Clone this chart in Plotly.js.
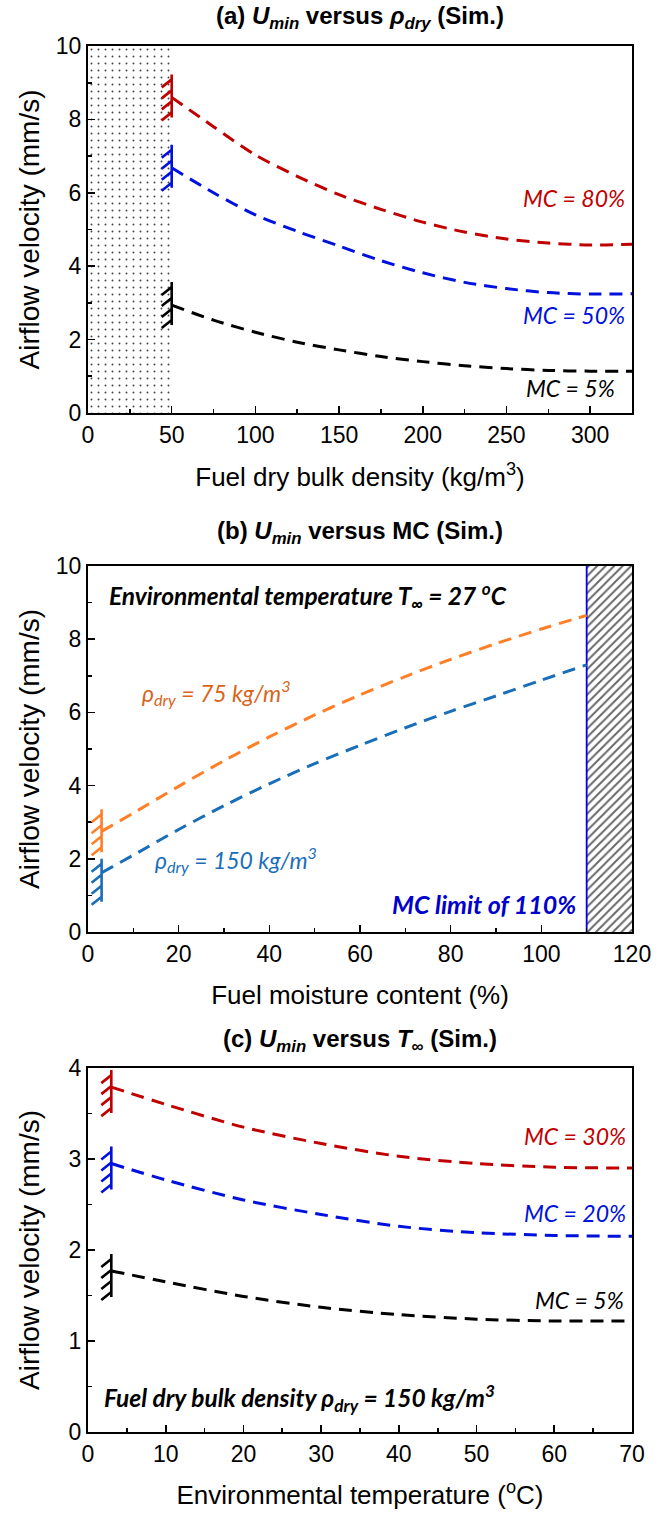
<!DOCTYPE html>
<html><head><meta charset="utf-8">
<script src="https://cdn.plot.ly/plotly-3.0.1.min.js"></script>
<style>html,body{margin:0;padding:0;background:#fff}#chart{width:672px;height:1514px}</style>
</head><body><div id="chart"></div>
<script>
// ---------- data ----------
// (a) U_min versus dry bulk density
const rhoA = [50, 75, 100, 125, 150, 175, 200, 225, 250, 275, 300, 325];
const uA_MC80 = [8.6, 7.8, 7.03, 6.45, 5.95, 5.55, 5.2, 4.93, 4.74, 4.63, 4.58, 4.6];
const uA_MC50 = [6.68, 6.0, 5.4, 4.95, 4.55, 4.15, 3.82, 3.56, 3.39, 3.28, 3.24, 3.25];
const uA_MC5  = [2.94, 2.53, 2.2, 1.93, 1.72, 1.54, 1.40, 1.29, 1.21, 1.16, 1.14, 1.14];
const zoneA_x = [0, 50, 50, 0, 0];
const zoneA_y = [0, 0, 10, 10, 0];
// (b) U_min versus moisture content
const mcB = [3, 10, 20, 30, 40, 50, 60, 70, 80, 90, 100, 110];
const uB_rho75  = [2.75, 3.25, 3.98, 4.68, 5.33, 5.93, 6.48, 6.98, 7.45, 7.88, 8.28, 8.65];
const uB_rho150 = [1.62, 2.1, 2.8, 3.45, 4.05, 4.6, 5.1, 5.58, 6.03, 6.45, 6.88, 7.3];
const mcLimit = 110;
const zoneB_x = [110, 120, 120, 110, 110];
const zoneB_y = [0, 0, 10, 10, 0];
// (c) U_min versus environmental temperature
const tC = [3, 10, 20, 30, 40, 50, 60, 70];
const uC_MC30 = [3.79, 3.6, 3.35, 3.17, 3.03, 2.95, 2.91, 2.9];
const uC_MC20 = [2.95, 2.77, 2.55, 2.39, 2.26, 2.19, 2.16, 2.15];
const uC_MC5  = [1.77, 1.65, 1.49, 1.37, 1.29, 1.24, 1.22, 1.22];

// ---------- styling ----------
const FONT = 'Liberation Sans, Arial, sans-serif';
const IFONT = 'Lato, Open Sans, sans-serif';
const RED = '#C00000', BLUE = '#0010DD', BLACK = '#000000';
const ORANGE = '#FF7F27', ORANGE_T = '#D8641A', STEEL = '#1A6EB8';
const DASH = '13px,8px';
const W = 672, H = 1514;
const xDom = [88 / W, 632 / W];
const dom = (top, bot) => [1 - bot / H, 1 - top / H];

function curve(x, y, color, xa, ya) {
  return {x: x, y: y, xaxis: xa, yaxis: ya, type: 'scatter', mode: 'lines',
    line: {color: color, width: 3, dash: DASH, shape: 'spline', smoothing: 0.8},
    hoverinfo: 'skip', showlegend: false};
}
function zone(x, y, xa, ya, pat) {
  return {x: x, y: y, xaxis: xa, yaxis: ya, type: 'scatter', mode: 'lines', fill: 'toself',
    line: {width: 0, color: 'rgba(0,0,0,0)'}, fillcolor: 'rgba(255,255,255,0)',
    fillpattern: pat, hoverinfo: 'skip', showlegend: false};
}
function wall(xa, ya, x0, y0, color, up, down) {
  let p = 'M0,' + up + ' L0,' + (-down);
  const n = 4, step = (up + down - 10) / (n - 1);
  for (let i = 0; i < n; i++) {
    const s = up - 5 - i * step;
    p += ' M0,' + s.toFixed(1) + ' L-10,' + (s - 8).toFixed(1);
  }
  return {type: 'path', xref: xa, yref: ya, xsizemode: 'pixel', ysizemode: 'pixel',
    xanchor: x0, yanchor: y0, path: p, line: {color: color, width: 2.6}, layer: 'above'};
}
function axis(extra, minorDtick) {
  return Object.assign({
    showline: true, linecolor: '#000', linewidth: 2, mirror: true,
    ticks: 'inside', ticklen: 7, tickwidth: 1.6, tickcolor: '#000',
    minor: {ticks: 'inside', ticklen: 4, tickwidth: 1.6, tickcolor: '#000', dtick: minorDtick, showgrid: false},
    showgrid: false, zeroline: false, fixedrange: true,
    tickfont: {family: FONT, size: 23, color: '#000'}
  }, extra);
}
function ttl(text, standoff, size) {
  return {text: text, font: {family: FONT, size: size, color: '#000'}, standoff: standoff};
}
function note(text, xa, ya, x, y, color, anchor, size, bold) {
  return {text: bold ? '<b><i>' + text + '</i></b>' : '<i>' + text + '</i>', xref: xa, yref: ya, x: x, y: y,
    xanchor: anchor, yanchor: 'middle', showarrow: false,
    font: {family: IFONT, size: size, color: color}};
}
function head(text, yPx) {
  return {text: '<b>' + text + '</b>', xref: 'paper', yref: 'paper', x: (xDom[0] + xDom[1]) / 2,
    y: 1 - yPx / H, xanchor: 'center', yanchor: 'middle', showarrow: false,
    font: {family: FONT, size: 24, color: '#000'}};
}

const traces = [
  zone(zoneA_x, zoneA_y, 'x', 'y', {shape: '.', size: 7, solidity: 0.06, fgcolor: '#444', bgcolor: 'rgba(255,255,255,0)'}),
  curve(rhoA, uA_MC80, RED, 'x', 'y'),
  curve(rhoA, uA_MC50, BLUE, 'x', 'y'),
  curve(rhoA, uA_MC5, BLACK, 'x', 'y'),
  zone(zoneB_x, zoneB_y, 'x2', 'y2', {shape: '/', size: 6, solidity: 0.32, fgcolor: '#666', bgcolor: 'rgba(255,255,255,0)'}),
  {x: [mcLimit, mcLimit], y: [zoneB_y[0], zoneB_y[2]], xaxis: 'x2', yaxis: 'y2', type: 'scatter', mode: 'lines',
    line: {color: '#0000EE', width: 1.8}, hoverinfo: 'skip', showlegend: false},
  curve(mcB, uB_rho75, ORANGE, 'x2', 'y2'),
  curve(mcB, uB_rho150, STEEL, 'x2', 'y2'),
  curve(tC, uC_MC30, RED, 'x3', 'y3'),
  curve(tC, uC_MC20, BLUE, 'x3', 'y3'),
  curve(tC, uC_MC5, BLACK, 'x3', 'y3')
];

const layout = {
  width: W, height: H, margin: {l: 0, r: 0, t: 0, b: 0}, showlegend: false,
  paper_bgcolor: '#fff', plot_bgcolor: 'rgba(0,0,0,0)',
  font: {family: FONT, color: '#000'},
  xaxis: axis({domain: xDom, anchor: 'y', range: [0, 325], dtick: 50, tick0: 0,
    title: ttl('Fuel dry bulk density (kg/m<sup>3</sup>)', 21, 26)}, 25),
  yaxis: axis({domain: dom(46, 413), anchor: 'x', range: [0, 10], dtick: 2, tick0: 0,
    title: ttl('Airflow velocity (mm/s)', 8, 28)}, 1),
  xaxis2: axis({domain: xDom, anchor: 'y2', range: [0, 120], dtick: 20, tick0: 0,
    title: ttl('Fuel moisture content (%)', 20, 26)}, 10),
  yaxis2: axis({domain: dom(566, 932), anchor: 'x2', range: [0, 10], dtick: 2, tick0: 0,
    title: ttl('Airflow velocity (mm/s)', 8, 28)}, 1),
  xaxis3: axis({domain: xDom, anchor: 'y3', range: [0, 70], dtick: 10, tick0: 0,
    title: ttl('Environmental temperature (<sup>o</sup>C)', 20, 26)}, 5),
  yaxis3: axis({domain: dom(1068, 1432), anchor: 'x3', range: [0, 4], dtick: 1, tick0: 0,
    title: ttl('Airflow velocity (mm/s)', 21, 28)}, 0.5),
  shapes: [
    wall('x', 'y', rhoA[0], uA_MC80[0], RED, 23, 20),
    wall('x', 'y', rhoA[0], uA_MC50[0], BLUE, 23, 20),
    wall('x', 'y', rhoA[0], uA_MC5[0], BLACK, 23, 20),
    wall('x2', 'y2', mcB[0], uB_rho75[0], ORANGE, 22, 21),
    wall('x2', 'y2', mcB[0], uB_rho150[0], STEEL, 14, 29),
    wall('x3', 'y3', tC[0], uC_MC30[0], RED, 17, 26),
    wall('x3', 'y3', tC[0], uC_MC20[0], BLUE, 17, 26),
    wall('x3', 'y3', tC[0], uC_MC5[0], BLACK, 17, 26)
  ],
  annotations: [
    head('(a) <i>U<sub>min</sub></i> versus <i>ρ<sub>dry</sub></i> (Sim.)', 18),
    head('(b) <i>U<sub>min</sub></i> versus MC (Sim.)', 532),
    head('(c) <i>U<sub>min</sub></i> versus <i>T</i><sub>∞</sub> (Sim.)', 1040),
    note('MC = 80%', 'x', 'y', 322, 5.85, RED, 'right', 23),
    note('MC = 50%', 'x', 'y', 322, 2.67, BLUE, 'right', 23),
    note('MC = 5%', 'x', 'y', 316, 0.68, BLACK, 'right', 23),
    note('Environmental temperature T<sub>∞</sub> = 27 <sup>o</sup>C', 'x2', 'y2', 4.2, 9.19, BLACK, 'left', 24.5, true),
    note('ρ<sub>dry</sub> = 75 kg/m<sup>3</sup>', 'x2', 'y2', 11.5, 6.55, ORANGE_T, 'left', 23),
    note('ρ<sub>dry</sub> = 150 kg/m<sup>3</sup>', 'x2', 'y2', 14.3, 1.98, STEEL, 'left', 23),
    note('MC limit of 110%', 'x2', 'y2', 108, 0.76, '#0000CC', 'right', 25, true),
    note('MC = 30%', 'x3', 'y3', 69.5, 3.25, RED, 'right', 23),
    note('MC = 20%', 'x3', 'y3', 69.5, 2.41, BLUE, 'right', 23),
    note('MC = 5%', 'x3', 'y3', 69.2, 1.45, BLACK, 'right', 23),
    note('Fuel dry bulk density ρ<sub>dry</sub> = 150 kg/m<sup>3</sup>', 'x3', 'y3', 1.8, 0.37, BLACK, 'left', 24.5, true)
  ]
};

Plotly.newPlot('chart', traces, layout, {staticPlot: true, displayModeBar: false});
</script></body></html>
